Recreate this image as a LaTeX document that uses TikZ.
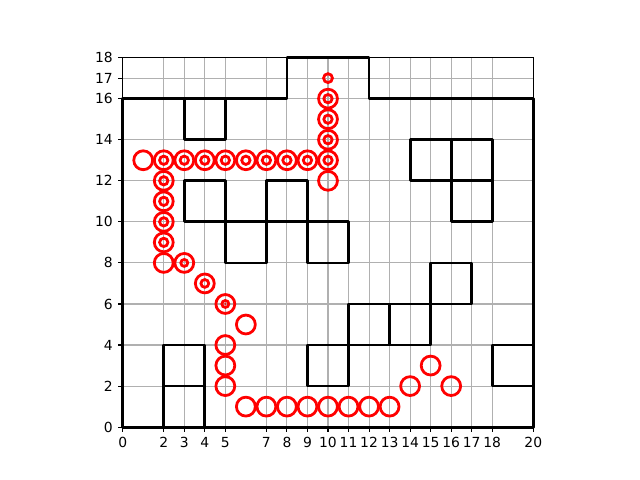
\documentclass[tikz,border=0pt]{standalone}
\usepackage{fontspec}
\setmainfont{DejaVu Sans}
\begin{document}
\begin{tikzpicture}[x=0.52146cm,y=0.52146cm,
  gridline/.style={draw={rgb,255:red,176;green,176;blue,176}, line width=0.8bp},
  spine/.style={draw=black, line width=0.8bp},
  wall/.style={draw=black, line width=2bp, line cap=rect, line join=round},
  ring/.style={draw=red, line width=2bp},
  ticklab/.style={inner sep=0pt, font=\fontsize{10bp}{12bp}\selectfont}]
\useasboundingbox (-5.976,-2.572) rectangle (25.197,20.806);
% grid
\foreach \x in {0,2,3,4,5,7,8,9,10,11,12,13,14,15,16,17,18,20}
  \draw[gridline] (\x,0) -- (\x,18);
\foreach \y in {0,2,4,6,8,10,12,14,16,17,18}
  \draw[gridline] (0,\y) -- (20,\y);
% walls
\draw[wall] (0,0) -- (0,16) -- (8,16) -- (8,18) -- (12,18) -- (12,16) -- (20,16) -- (20,0) -- cycle;
\foreach \a/\b/\c/\d in {3/14/5/16, 3/10/5/12, 5/8/7/10, 7/10/9/12, 9/8/11/10,
  14/12/16/14, 16/12/18/14, 16/10/18/12, 15/6/17/8, 11/4/13/6, 13/4/15/6,
  9/2/11/4, 18/2/20/4, 2/2/4/4, 2/0/4/2}
  \draw[wall] (\a,\b) rectangle (\c,\d);
% spines
\draw[spine] (0,0) rectangle (20,18);
% ticks and labels
\foreach \x in {0,2,3,4,5,7,8,9,10,11,12,13,14,15,16,17,18,20} {
  \draw[spine] (\x,0) -- ++(0,-3.5bp);
  \node[ticklab, anchor=north] (xl\x) at ([yshift=-7bp]\x,0) {\x};
}
\foreach \y in {0,2,4,6,8,10,12,14,16,17,18} {
  \draw[spine] (0,\y) -- ++(-3.5bp,0);
  \node[ticklab, anchor=east] (yl\y) at ([xshift=-7bp]0,\y) {\y};
}
% big circles
\foreach \p in {(1,13),(2,13),(3,13),(4,13),(5,13),(6,13),(7,13),(8,13),(9,13),(10,13),
  (10,12),(10,14),(10,15),(10,16),(2,12),(2,11),(2,10),(2,9),(2,8),(3,8),(4,7),(5,6),(6,5),
  (5,4),(5,3),(5,2),(6,1),(7,1),(8,1),(9,1),(10,1),(11,1),(12,1),(13,1),(14,2),(15,3),(16,2)}
  \draw[ring] \p circle[radius=6.8bp];
% inner circles
\foreach \p in {(2,13),(3,13),(4,13),(5,13),(6,13),(7,13),(8,13),(9,13),(10,13),
  (10,14),(10,15),(10,16),(2,12),(2,11),(2,10),(2,9)}
  \draw[ring] \p circle[radius=3bp];
\draw[ring] (4,7) circle[radius=2.8bp];
\draw[ring] (3,8) circle[radius=2.5bp];
\draw[ring] (5,6) circle[radius=2.5bp];
\fill[red] (5,6) circle[radius=0.8bp];
\draw[ring] (10,17) circle[radius=3.2bp];
\end{tikzpicture}
\end{document}
